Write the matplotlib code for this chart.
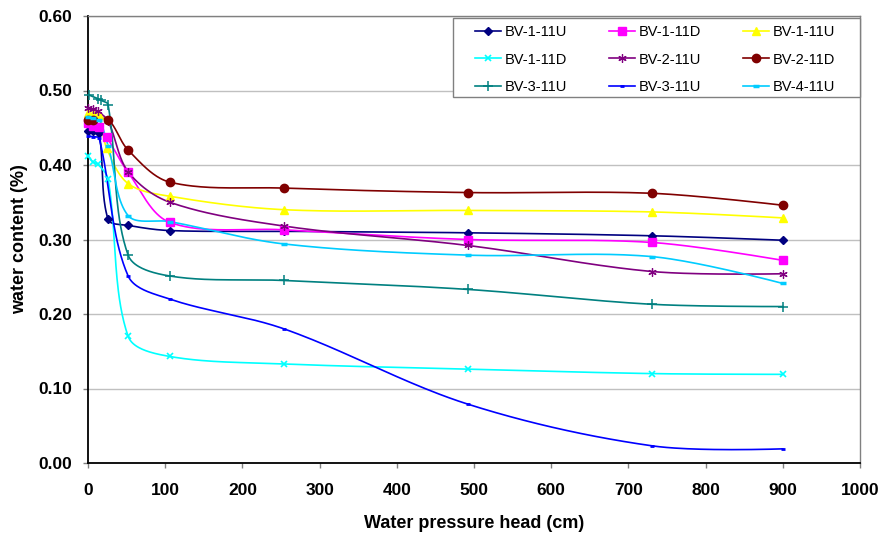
import numpy as np
import matplotlib
matplotlib.use("Agg")
import matplotlib.pyplot as plt
from matplotlib.patches import Rectangle

plt.rcParams['font.family'] = ['Liberation Sans', 'DejaVu Sans']

labels = ["BV-1-11U", "BV-1-11D", "BV-1-11U", "BV-1-11D", "BV-2-11U",
          "BV-2-11D", "BV-3-11U", "BV-3-11U", "BV-4-11U"]

x1 = [0, 6.5, 14.5, 26, 52, 106, 254, 492, 731, 900]
y1 = [0.445, 0.445, 0.443, 0.327, 0.319, 0.312, 0.311, 0.309, 0.305, 0.299]
x2 = [0, 6.5, 14.5, 24, 52, 106, 254, 492, 731, 900]
y2 = [0.456, 0.453, 0.451, 0.438, 0.390, 0.323, 0.313, 0.300, 0.296, 0.272]
x3 = [0, 6.5, 14.5, 24, 52, 106, 254, 492, 731, 900]
y3 = [0.470, 0.469, 0.467, 0.423, 0.375, 0.358, 0.340, 0.339, 0.337, 0.329]
x4 = [0, 6.5, 13, 26, 52, 106, 254, 492, 731, 900]
y4 = [0.412, 0.404, 0.401, 0.381, 0.170, 0.143, 0.133, 0.126, 0.120, 0.119]
x5 = [0, 6.5, 13, 26, 52, 106, 254, 492, 731, 900]
y5 = [0.477, 0.475, 0.472, 0.459, 0.391, 0.350, 0.318, 0.292, 0.257, 0.254]
x6 = [0, 6.5, 26, 52, 106, 254, 492, 731, 900]
y6 = [0.460, 0.460, 0.461, 0.420, 0.377, 0.369, 0.363, 0.362, 0.346]
x7 = [1, 13, 16.5, 26, 52, 106, 254, 492, 731, 900]
y7 = [0.494, 0.489, 0.487, 0.481, 0.279, 0.251, 0.245, 0.233, 0.213, 0.210]
x8 = [0, 6.5, 14.5, 52, 106, 254, 492, 731, 900]
y8 = [0.439, 0.438, 0.436, 0.251, 0.220, 0.180, 0.079, 0.023, 0.019]
x9 = [0, 6.5, 14.5, 26, 52, 106, 254, 492, 731, 900]
y9 = [0.464, 0.463, 0.461, 0.426, 0.332, 0.324, 0.294, 0.279, 0.277, 0.241]

xs = [x1, x2, x3, x4, x5, x6, x7, x8, x9]
ys = [y1, y2, y3, y4, y5, y6, y7, y8, y9]

colors = ["#000080", "#FF00FF", "#FFFF00", "#00FFFF", "#800080",
          "#800000", "#008080", "#0000FF", "#00CCFF"]
markers = ["D", "s", "^", "x", (6, 2, 0), "o", "+", "_", "_"]
msizes = [4.5, 5.5, 6, 5, 6, 6, 6.5, 3, 5]
mews = [1, 1, 1, 1.2, 0.9, 1, 1.1, 2.0, 2.5]

x_ticks = list(range(0, 1001, 100))
y_ticks = [0.0, 0.1, 0.2, 0.3, 0.4, 0.5, 0.6]


def smooth(x, y, sx=1000.0, sy=0.6 * 772 / 447, n=40):
    # chord-weighted Bezier smoothing in screen-like space (spreadsheet-style smoothed line)
    pts = np.column_stack([np.asarray(x, float) / sx, np.asarray(y, float) / sy])
    m = len(pts)
    d = np.linalg.norm(np.diff(pts, axis=0), axis=1)
    cin = pts.copy()
    cout = pts.copy()
    for i in range(1, m - 1):
        T = pts[i + 1] - pts[i - 1]
        s = d[i - 1] + d[i]
        cin[i] = pts[i] - T * (d[i - 1] / s) / 3.0
        cout[i] = pts[i] + T * (d[i] / s) / 3.0
    out = [pts[0]]
    t = np.linspace(0, 1, n)[1:, None]
    for i in range(m - 1):
        p1, c1, c2, p2 = pts[i], cout[i], cin[i + 1], pts[i + 1]
        seg = ((1 - t) ** 3) * p1 + 3 * ((1 - t) ** 2) * t * c1 + 3 * (1 - t) * t ** 2 * c2 + t ** 3 * p2
        out.extend(seg)
    out = np.array(out)
    return out[:, 0] * sx, out[:, 1] * sy


W, H = 883, 533
fig = plt.figure(figsize=(W / 100, H / 100), dpi=100)
ax = fig.add_axes([88 / W, (H - 463) / H, 772 / W, 447 / H])

handles = []
for x, y, c, mk, ms, mw, lab in zip(xs, ys, colors, markers, msizes, mews, labels):
    sxv, syv = smooth(x, y)
    ax.plot(sxv, syv, color=c, lw=1.2, zorder=3, clip_on=False)
    ax.plot(x, y, ls='none', marker=mk, color=c, ms=ms, mew=mw, zorder=4, clip_on=False)
    h, = ax.plot([], [], color=c, lw=1.2, marker=mk, ms=ms, mew=mw, label=lab)
    handles.append(h)

ax.set_xlim(0, 1000)
ax.set_ylim(0, 0.6)
ax.set_xticks(x_ticks)
ax.set_yticks(y_ticks)
ax.set_xticklabels([str(v) for v in x_ticks], fontweight='bold', fontsize=12.5)
ax.set_yticklabels(["%.2f" % v for v in y_ticks], fontweight='bold', fontsize=12.5)
ax.yaxis.grid(True, color='#c0c0c0', lw=1)
ax.set_axisbelow(True)
for s in ['top', 'right']:
    ax.spines[s].set_color('#808080')
    ax.spines[s].set_linewidth(1)
for s in ['left', 'bottom']:
    ax.spines[s].set_color('black')
    ax.spines[s].set_linewidth(1.3)
ax.tick_params(direction='out', length=3.6, width=1, color='#808080')
ax.tick_params(axis='x', pad=11)
ax.tick_params(axis='y', pad=8)
ax.set_xlabel("Water pressure head (cm)", fontweight='bold', fontsize=13, labelpad=12)
ax.set_ylabel("water content (%)", fontweight='bold', fontsize=13, labelpad=7)

# legend frame
fig.patches.append(Rectangle((453 / W, 1 - 97 / H), 407 / W, 79 / H, transform=fig.transFigure,
                             facecolor='white', edgecolor='#808080', lw=1, zorder=5))

order = [0, 3, 6, 1, 4, 7, 2, 5, 8]
leg = fig.legend([handles[i] for i in order], [labels[i] for i in order],
                 ncol=3, loc='upper left', bbox_to_anchor=(475 / W, 1 - 25 / H),
                 fontsize=10.5, frameon=False, borderpad=0, borderaxespad=0,
                 handlelength=1.8, columnspacing=2.85, labelspacing=0.93,
                 handletextpad=0.25)
leg.set_zorder(6)

fig.savefig("out.png", dpi=100)
